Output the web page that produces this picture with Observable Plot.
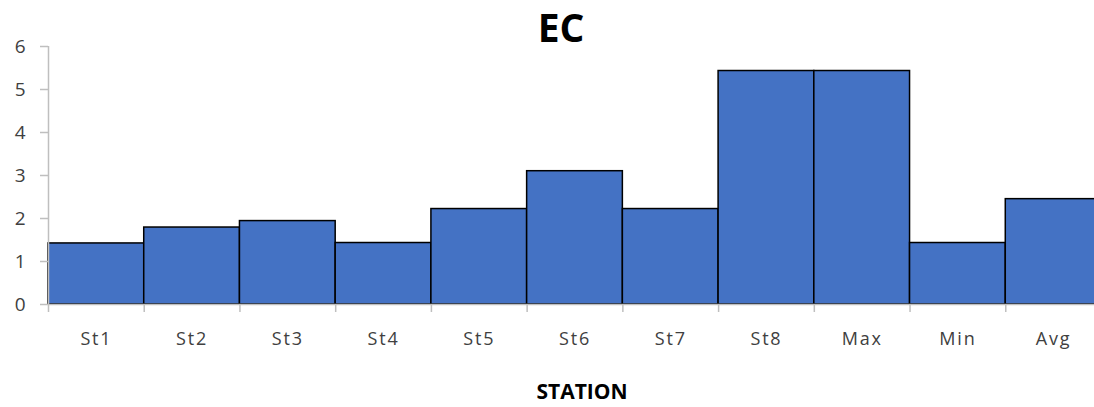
<!DOCTYPE html>
<html>
<head>
<meta charset="utf-8">
<script src="https://cdn.jsdelivr.net/npm/d3@7"></script>
<script src="https://cdn.jsdelivr.net/npm/@observablehq/plot@0.6"></script>
<style>
  html, body { margin: 0; padding: 0; background: #fff; }
  #wrap { position: relative; width: 1094px; height: 407px; }
  .title { position: absolute; top: 0px; left: 461px; width: 200px; text-align: center;
           font: bold 39px "Open Sans", sans-serif; line-height: normal; color: #000; }
  .xlabel { position: absolute; top: 378px; left: 482px; width: 200px; text-align: center;
            font: bold 21px/26px "Open Sans", sans-serif; color: #000; }
  .xt text { letter-spacing: 1.8px; }
</style>
</head>
<body>
<div id="wrap">
  <div id="chart"></div>
  <div class="title">EC</div>
  <div class="xlabel">STATION</div>
</div>
<script>
const categories = ["St1", "St2", "St3", "St4", "St5", "St6", "St7", "St8", "Max", "Min", "Avg"];
const values = [1.42, 1.79, 1.94, 1.43, 2.22, 3.10, 2.22, 5.43, 5.43, 1.43, 2.45];
const yTicks = [0, 1, 2, 3, 4, 5, 6];

const data = categories.map((c, i) => ({c, i, v: values[i]}));
const boundaries = d3.range(categories.length + 1);
const centers = data.map(d => d.i + 0.5);

const chart = Plot.plot({
  width: 1094,
  height: 407,
  marginLeft: 48,
  marginRight: -7,
  marginTop: 46,
  marginBottom: 103,
  x: {type: "linear", domain: [0, categories.length], axis: null},
  y: {domain: [0, 6], axis: null},
  style: {fontFamily: "'Open Sans', sans-serif", background: "#fff"},
  marks: [
    Plot.rectY(data, {x1: "i", x2: d => d.i + 1, y: "v", fill: "#4472C4", stroke: "#000", strokeWidth: 1.5}),
    Plot.ruleX([0], {stroke: "#bfbfbf", strokeWidth: 1.5}),
    Plot.ruleY([0], {stroke: "#bfbfbf", strokeWidth: 1.5}),
    Plot.axisX(boundaries, {tickSize: 8, tickFormat: () => "", color: "#bfbfbf", strokeWidth: 1.5, label: null}),
    Plot.axisX(centers, {tickSize: 0, tickPadding: 28, tickFormat: x => categories[Math.round(x - 0.5)], color: "#404040", fontSize: 18, label: null, className: "xt"}),
    Plot.axisY(yTicks, {tickSize: 8, tickFormat: () => "", color: "#bfbfbf", strokeWidth: 1.5, label: null}),
    Plot.axisY(yTicks, {tickSize: 0, tickPadding: 23, color: "#404040", fontSize: 19, label: null})
  ]
});
document.getElementById("chart").appendChild(chart);
</script>
</body>
</html>
